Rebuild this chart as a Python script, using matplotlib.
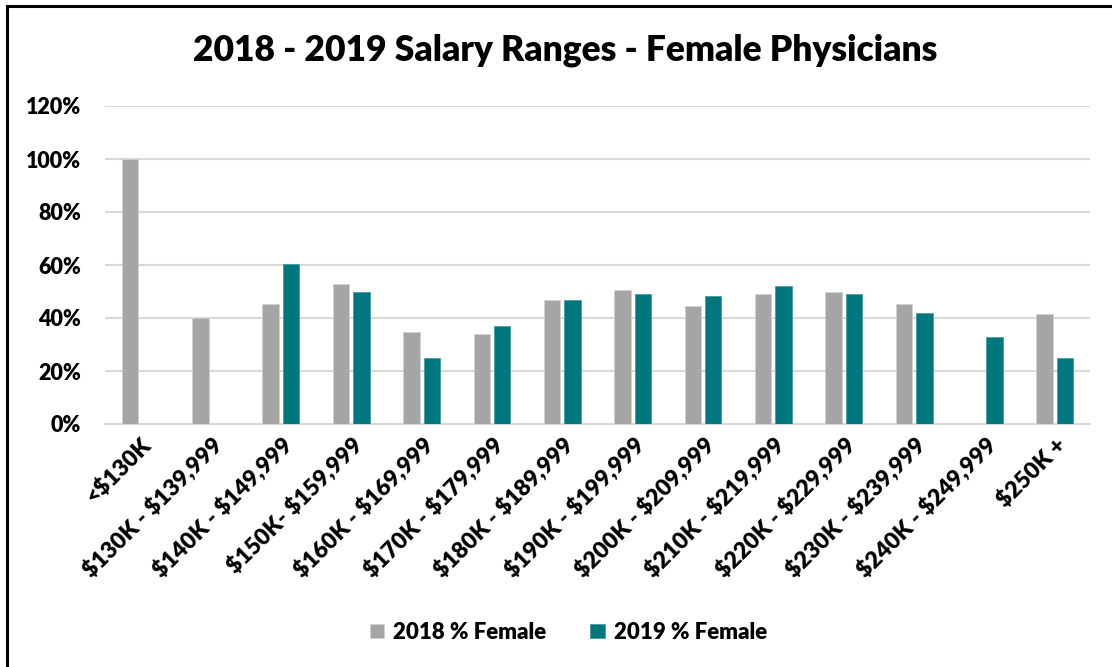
import matplotlib
matplotlib.use("Agg")
import matplotlib.pyplot as plt
import numpy as np
from matplotlib.ticker import PercentFormatter
from matplotlib.lines import Line2D

categories = ['<$130K', '$130K - $139,999', '$140K - $149,999', '$150K- $159,999',
              '$160K - $169,999', '$170K - $179,999', '$180K - $189,999',
              '$190K - $199,999', '$200K - $209,999', '$210K - $219,999',
              '$220K - $229,999', '$230K - $239,999', '$240K - $249,999', '$250K +']
female_2018 = [100, 40, 45.4, 53, 34.7, 33.8, 46.7, 50.4, 44.6, 49, 49.9, 45.1, 0, 41.4]
female_2019 = [0, 0, 60.3, 50, 25, 37, 46.7, 49, 48.2, 52.2, 49, 41.8, 33, 25]

plt.rcParams['font.family'] = ['Lato', 'DejaVu Sans']
plt.rcParams['font.weight'] = 'heavy'
plt.rcParams['text.parse_math'] = False

fig = plt.figure(figsize=(11.12, 6.67), dpi=100)
ax = fig.add_axes([105 / 1112, 1 - 424 / 667, 985 / 1112, 318 / 667])

x = np.arange(len(categories))
w = 0.233
ax.bar(x - 0.145, female_2018, w, color='#A5A5A5', edgecolor='#d0d0d0', linewidth=0.5,
       label='2018 % Female', zorder=3)
ax.bar(x + 0.145, female_2019, w, color='#00767F', edgecolor='#3a9aa2', linewidth=0.5,
       label='2019 % Female', zorder=3)

ax.set_xlim(-0.5, len(categories) - 0.5)
ax.set_ylim(0, 120)
ax.set_yticks(np.arange(0, 121, 20))
ax.yaxis.set_major_formatter(PercentFormatter(decimals=0))
ax.grid(axis='y', color='#D9D9D9', linewidth=1.5, zorder=0)
for s in ['top', 'right', 'left']:
    ax.spines[s].set_visible(False)
ax.spines['bottom'].set_color('#D9D9D9')
ax.spines['bottom'].set_linewidth(1.5)
ax.tick_params(axis='both', length=0, labelsize=15.5, colors='black')
ax.tick_params(axis='y', pad=17)
ax.tick_params(axis='x', pad=7)
ax.set_xticks(x)
ax.set_xticklabels(categories, rotation=45, ha='right', rotation_mode='anchor', fontsize=16.5)

fig.text(0.508, 0.925, '2018 - 2019 Salary Ranges - Female Physicians',
         ha='center', va='center', fontsize=25.5, fontweight='heavy')

fig.legend(loc='center', bbox_to_anchor=(0.511, 0.052), ncol=2, frameon=False,
           fontsize=16, handlelength=0.65, handleheight=0.65, columnspacing=2.0,
           handletextpad=0.4)

# cropped frame of the screenshot
fig.add_artist(Line2D([6.5 / 1112, 6.5 / 1112], [0, 1 - 5.5 / 667], color='black', lw=2.2))
fig.add_artist(Line2D([6.5 / 1112, 1], [1 - 5.5 / 667, 1 - 5.5 / 667], color='black', lw=2.2))

fig.savefig('out.png', dpi=100)
